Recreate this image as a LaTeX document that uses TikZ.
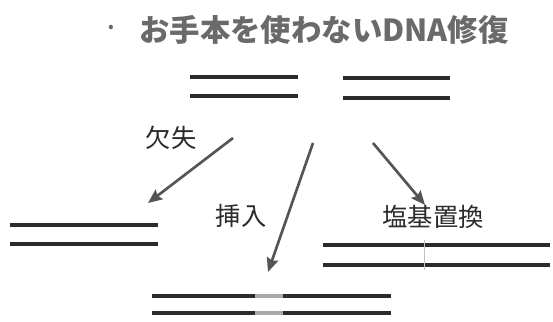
\documentclass[tikz,border=0pt]{standalone}
\usepackage{fontspec}
\newfontfamily\cjk{Noto Sans CJK JP}
\usetikzlibrary{arrows.meta}
\definecolor{ink}{HTML}{2B2B2B}
\definecolor{arrgray}{HTML}{555555}
\definecolor{titlegray}{HTML}{6A6A6A}
\definecolor{gapgray}{HTML}{A8A8A8}
\tikzset{
  every node/.style={font=\cjk},
  duplex/.style={inner sep=0pt,outer sep=0pt,draw=none},
  strand/.style={draw=ink,line width=2.7pt},
  ar/.style={-{Stealth[length=10pt,width=8.5pt,inset=1.5pt]},draw=arrgray,line width=1.9pt},
  lab/.style={font=\cjk\fontsize{18}{18}\selectfont,color=ink,inner sep=0pt},
  ttl/.style={font=\cjk\bfseries\fontsize{21.6}{22}\selectfont,color=titlegray,inner sep=0pt},
}
\begin{document}
\begin{tikzpicture}[x=0.025cm,y=-0.025cm]
\useasboundingbox (0,0) rectangle (553,322);
% title
\node[ttl,font=\cjk\fontsize{12}{12}\selectfont] (dot) at (111,29) {•};
\node[ttl] (title) at (324,30) {お手本を使わないDNA修復};

% duplexes
\node[duplex,minimum width=2.7cm,minimum height=0.475cm] (tl) at (244,86.5) {};
\node[duplex,minimum width=2.675cm,minimum height=0.5cm] (tr) at (396.5,88) {};
\node[duplex,minimum width=3.7cm,minimum height=0.475cm] (del) at (84,234.5) {};
\node[duplex,minimum width=5.975cm,minimum height=0.425cm] (ins) at (271.5,304.5) {};
\node[duplex,minimum width=5.675cm,minimum height=0.5cm] (sub) at (436.5,255) {};
\foreach \d in {tl,tr,del,ins,sub}
  \draw[strand] (\d.north west) -- (\d.north east) (\d.south west) -- (\d.south east);
% inserted piece and substituted base
\draw[strand,draw=gapgray] (255,296) -- (283,296) (255,313) -- (283,313);
\draw[gapgray!70,line width=0.6pt] (424,240) -- (424,270);

% arrows
\coordinate (s1) at (233,138);
\coordinate (t1) at (148,203);
\coordinate (s2) at (313,143);
\coordinate (t2) at (268,272);
\coordinate (s3) at (373,143);
\coordinate (t3) at (425,205);
\draw[ar] (s1) -- (t1);
\draw[ar] (s2) -- (t2);
\draw[ar] (s3) -- (t3);

% labels
\node[lab] (ldel) at (171,138) {欠失};
\node[lab] (lins) at (241,216) {挿入};
\node[lab] (lsub) at (433,217) {塩基置換};
\end{tikzpicture}
\end{document}
